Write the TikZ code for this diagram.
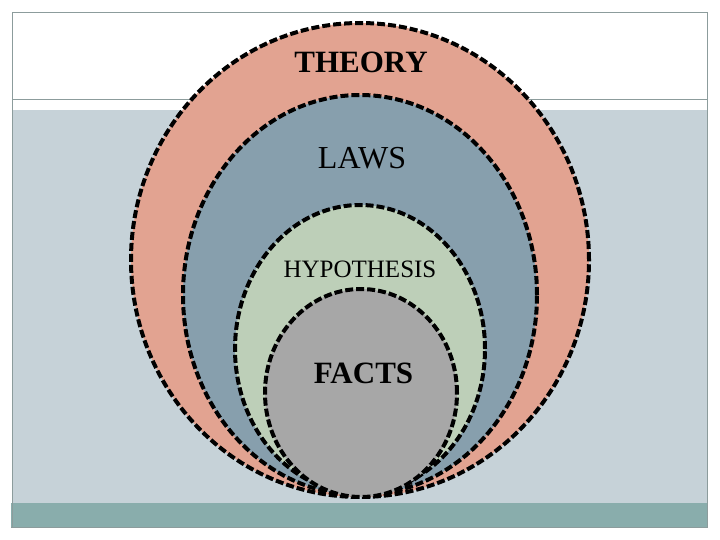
\documentclass[tikz,border=0pt]{standalone}
\usepackage{fontspec}
\setmainfont{Liberation Serif}
\usepackage{tikz}
\usetikzlibrary{positioning,shapes.geometric}
\definecolor{slidebg}{HTML}{C6D2D8}
\definecolor{slidebar}{HTML}{89ADAC}
\definecolor{slideline}{HTML}{8C9C9C}
\definecolor{theorycol}{HTML}{E2A391}
\definecolor{lawscol}{HTML}{879FAD}
\definecolor{hypcol}{HTML}{BDCFB8}
\definecolor{factscol}{HTML}{A7A7A7}

\begin{document}
\begin{tikzpicture}[x=1pt,y=-1pt,
  ring/.style={ellipse,draw=black,line width=4pt,dash pattern=on 8pt off 3pt,inner sep=0pt},
  big/.style={inner sep=0pt,font=\fontsize{31}{36}\selectfont\bfseries},
  plain/.style={inner sep=0pt,font=\fontsize{32}{36}\selectfont},
  small/.style={inner sep=0pt,font=\fontsize{25}{28}\selectfont}]
  \useasboundingbox (0,0) rectangle (720,540);

  % slide background
  \fill[white] (0,0) rectangle (720,540);
  \fill[slidebg] (12.5,110) rectangle (707.5,503);
  \fill[slidebar] (11,503) rectangle (708,527);
  \draw[slideline,line width=1pt] (12.5,527) -- (12.5,12.5) -- (707.5,12.5) -- (707.5,527) -- (11,527);
  \draw[slideline,line width=1pt] (12.5,100) -- (707.5,100);

  % nested sets, outer to inner: name/centre x/centre y/radius x/radius y/colour
  \foreach \id/\cx/\cy/\rx/\ry/\col in {theory/360/260/229/237/theorycol,
                                         laws/360/295/177/200/lawscol,
                                         hyp/360/349/125/144/hypcol,
                                         facts/361/393/96/104/factscol}{
    \node[ring,fill=\col,minimum width=2*\rx,minimum height=2*\ry] (\id) at (\cx,\cy) {};
  }

  % labels
  \node[big] (theorylbl) at (361,62.5) {THEORY};
  \node[plain] (lawslbl) at (362,158) {LAWS};
  \node[small] (hyplbl) at (360,269.5) {HYPOTHESIS};
  \node[big] (factslbl) at (363.5,373) {FACTS};
\end{tikzpicture}
\end{document}
